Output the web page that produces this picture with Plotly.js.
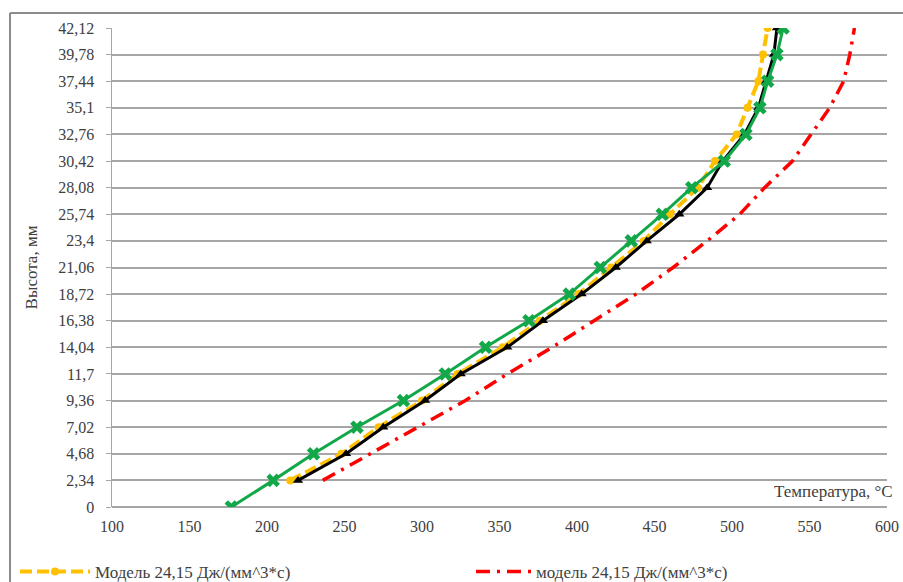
<!DOCTYPE html>
<html><head><meta charset="utf-8">
<script src="https://cdn.plot.ly/plotly-3.0.1.min.js"></script>
<style>html,body{margin:0;padding:0;background:#fff;overflow:hidden}#chart{width:903px;height:582px;}</style>
</head><body><div id="chart"></div>
<script>
// Heights (mm) and their axis labels
const heights = [0, 2.34, 4.68, 7.02, 9.36, 11.7, 14.04, 16.38, 18.72, 21.06, 23.4, 25.74, 28.08, 30.42, 32.76, 35.1, 37.44, 39.78, 42.12];
const heightLabels = ["0", "2,34", "4,68", "7,02", "9,36", "11,7", "14,04", "16,38", "18,72", "21,06", "23,4", "25,74", "28,08", "30,42", "32,76", "35,1", "37,44", "39,78", "42,12"];
// Temperature series (°C) per height
const tempYellow = [null, 215, 248, 272, 300, 323, 352, 376, 401, 422, 443, 460, 478, 489, 503, 510, 517, 520, 523];
const tempRed    = [null, 236, 267, 297, 328, 355, 384, 411, 438, 462, 484, 505, 521, 539, 551, 563, 572, 576, 579];
const tempBlack  = [null, 220, 251, 275, 302, 325, 355, 378, 403, 425, 445, 466, 484, 494, 508, 517, 522, 527, 529];
const tempGreen  = [177, 204, 230, 258, 288, 315, 341, 369, 395, 415, 435, 455, 474, 495, 509, 518, 523, 529, 533];
const nameYellow = "Модель 24,15 Дж/(мм^3*с)";
const nameRed = "модель 24,15 Дж/(мм^3*с)";
const nameBlack = "эксперимент";
const nameGreen = "расчёт";
const xTicks = [100, 150, 200, 250, 300, 350, 400, 450, 500, 550, 600];

const serif = "Liberation Serif, Times New Roman, serif";
const txt = "#404040";
const grid = "#a6a6a6";

const traces = [
  {x: tempRed, y: heights, name: nameRed, mode: "lines", legend: "legend2",
   line: {color: "#ff0000", width: 3.5, dash: "14px,7px,3px,7px"}},
  {x: tempYellow, y: heights, name: nameYellow, mode: "lines+markers", legend: "legend",
   line: {color: "#ffc000", width: 4, dash: "12px,5px"},
   marker: {symbol: "circle", size: 8, color: "#ffc000"}},
  {x: tempBlack, y: heights, name: nameBlack, mode: "lines+markers", showlegend: false,
   line: {color: "#000000", width: 3},
   marker: {symbol: "triangle-up", size: 9, color: "#000000"}},
  {x: tempGreen, y: heights, name: nameGreen, mode: "lines+markers", showlegend: false,
   line: {color: "#12a84a", width: 3},
   marker: {symbol: "x", size: 12, color: "#12a84a"}}
];

const legendBase = {orientation: "h", xanchor: "left", y: (507 - 572) / 479, yanchor: "middle",
  font: {family: serif, size: 17, color: txt}, itemwidth: 70, bgcolor: "rgba(0,0,0,0)"};

const layout = {
  width: 903, height: 582,
  margin: {l: 112, r: 16, t: 28, b: 75, autoexpand: false},
  paper_bgcolor: "#fff", plot_bgcolor: "#fff",
  font: {family: serif, size: 16, color: txt},
  showlegend: true,
  legend: Object.assign({}, legendBase, {x: (15 - 112) / 775}),
  legend2: Object.assign({}, legendBase, {x: (471 - 112) / 775, itemwidth: 55}),
  xaxis: {range: [100, 600], tickvals: xTicks, showgrid: false, zeroline: false, showline: false,
          ticks: "", ticklabelstandoff: 8, tickfont: {family: serif, size: 16, color: txt}, fixedrange: true},
  yaxis: {range: [0, 42.12], tickvals: heights, ticktext: heightLabels, showgrid: true,
          gridcolor: grid, gridwidth: 2, zeroline: true, zerolinecolor: grid, zerolinewidth: 2,
          showline: true, linecolor: grid, linewidth: 1.5, ticks: "outside", ticklen: 5, tickcolor: grid,
          ticklabelstandoff: 8, tickfont: {family: serif, size: 16, color: txt},
          title: {text: "Высота, мм", font: {family: serif, size: 17, color: txt}, standoff: 16},
          fixedrange: true},
  annotations: [
    {text: "Температура, °С", xref: "paper", yref: "paper", x: (772 - 112) / 775, y: (507 - 491) / 479,
     xanchor: "left", yanchor: "middle", showarrow: false, font: {family: serif, size: 17, color: txt}}
  ],
  shapes: [
    {type: "line", xref: "paper", yref: "paper", x0: (10 - 112) / 775, x1: (10 - 112) / 775,
     y0: (507 - 13) / 479, y1: (507 - 600) / 479, line: {color: "#8c8c8c", width: 2}},
    {type: "line", xref: "paper", yref: "paper", x0: (10 - 112) / 775, x1: (950 - 112) / 775,
     y0: (507 - 13) / 479, y1: (507 - 13) / 479, line: {color: "#8c8c8c", width: 2}}
  ]
};

Plotly.newPlot("chart", traces, layout, {displayModeBar: false, staticPlot: true});
</script>
</body></html>
